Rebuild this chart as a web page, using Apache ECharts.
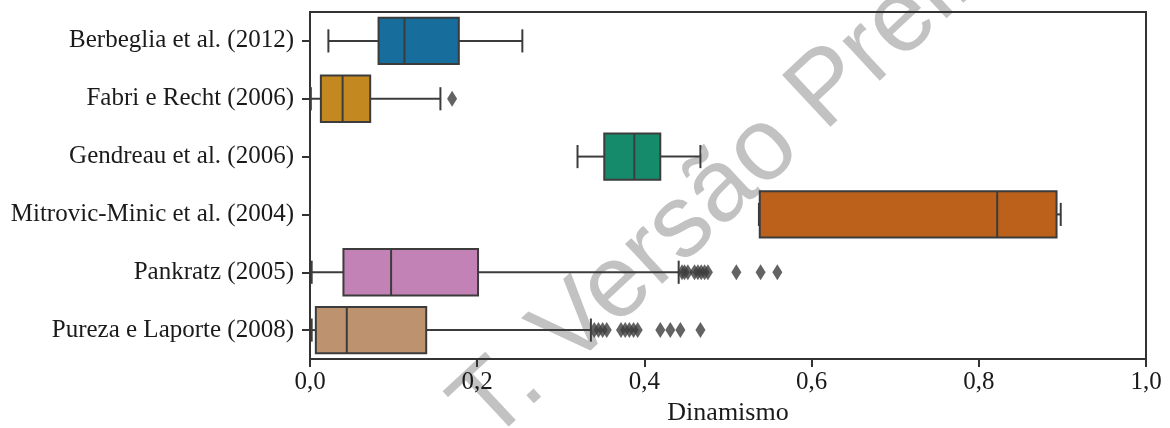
<!DOCTYPE html>
<html>
<head>
<meta charset="utf-8">
<script src="https://cdn.jsdelivr.net/npm/echarts@6/dist/echarts.min.js"></script>
<style>
  html, body { margin: 0; padding: 0; background: #fff; }
  #chart { width: 1170px; height: 428px; }
</style>
</head>
<body>
<div id="chart"></div>
<script>
// categorias (de cima para baixo)
var categories = [
  'Berbeglia et al. (2012)',
  'Fabri e Recht (2006)',
  'Gendreau et al. (2006)',
  'Mitrovic-Minic et al. (2004)',
  'Pankratz (2005)',
  'Pureza e Laporte (2008)'
];

// [min, q1, mediana, q3, max]
var berbeglia = [0.022, 0.082, 0.113, 0.178, 0.254];
var fabri = [0.001, 0.013, 0.039, 0.072, 0.156];
var gendreau = [0.320, 0.352, 0.388, 0.419, 0.467];
var mitrovic = [0.537, 0.538, 0.822, 0.893, 0.898];
var pankratz = [0.002, 0.040, 0.097, 0.201, 0.441];
var pureza = [0.002, 0.007, 0.044, 0.139, 0.336];

// outliers
var fabriOut = [0.170];
var pankratzOut = [0.445, 0.448, 0.452, 0.460, 0.464, 0.468, 0.472, 0.476, 0.510, 0.539, 0.559];
var purezaOut = [0.340, 0.345, 0.350, 0.355, 0.372, 0.377, 0.382, 0.387, 0.392, 0.419, 0.431, 0.443, 0.467];

var xTickLabels = ['0,0', '0,2', '0,4', '0,6', '0,8', '1,0'];

var boxColors = ['#176d9c', '#c38820', '#168b6b', '#bb611b', '#c282b5', '#bd926e'];
var edge = '#3c3c3c';
var serif = '"Liberation Serif", "Times New Roman", serif';

var stats = [berbeglia, fabri, gendreau, mitrovic, pankratz, pureza];
var boxData = [];
stats.forEach(function (s, i) {
  boxData.push([i].concat(s));
});

var outData = [];
[[], fabriOut, [], [], pankratzOut, purezaOut].forEach(function (arr, i) {
  arr.forEach(function (v) {
    outData.push([v, i]);
  });
});

function renderBox(params, api) {
  var cat = api.value(0);
  var lo = api.coord([api.value(1), cat]);
  var q1 = api.coord([api.value(2), cat]);
  var md = api.coord([api.value(3), cat]);
  var q3 = api.coord([api.value(4), cat]);
  var hi = api.coord([api.value(5), cat]);
  var band = api.size([0, 1])[1];
  var hb = band * 0.8 / 2;
  var hc = hb / 2;
  var cy = lo[1];
  var ls = { stroke: edge, lineWidth: 2 };
  return {
    type: 'group',
    children: [
      { type: 'line', shape: { x1: lo[0], y1: cy, x2: q1[0], y2: cy }, style: ls },
      { type: 'line', shape: { x1: q3[0], y1: cy, x2: hi[0], y2: cy }, style: ls },
      { type: 'line', shape: { x1: lo[0], y1: cy - hc, x2: lo[0], y2: cy + hc }, style: ls },
      { type: 'line', shape: { x1: hi[0], y1: cy - hc, x2: hi[0], y2: cy + hc }, style: ls },
      {
        type: 'rect',
        shape: { x: q1[0], y: cy - hb, width: q3[0] - q1[0], height: hb * 2 },
        style: { fill: boxColors[params.dataIndex], stroke: edge, lineWidth: 2 }
      },
      { type: 'line', shape: { x1: md[0], y1: cy - hb, x2: md[0], y2: cy + hb }, style: ls }
    ]
  };
}

var myChart = echarts.init(document.getElementById('chart'));

var options = {
  backgroundColor: '#fff',
  animation: false,
  grid: {
    left: 310,
    right: 24,
    top: 12,
    bottom: 69,
    show: true,
    borderColor: '#333',
    borderWidth: 2,
    containLabel: false,
    outerBoundsMode: 'none'
  },
  graphic: [{
    type: 'text',
    x: 470,
    y: 424,
    rotation: 43 * Math.PI / 180,
    z: -10,
    silent: true,
    style: {
      text: 'T. Versão Preliminar',
      font: '103px "Liberation Sans", Arial, sans-serif',
      fill: '#c2c2c2',
      align: 'left',
      verticalAlign: 'middle'
    }
  }],
  xAxis: {
    type: 'value',
    min: 0,
    max: 1,
    interval: 0.2,
    splitLine: { show: false },
    axisLine: { show: true, lineStyle: { color: '#333', width: 2 } },
    axisTick: { show: true, length: 8, lineStyle: { color: '#333', width: 2 } },
    axisLabel: {
      color: '#1a1a1a',
      fontFamily: serif,
      fontSize: 25,
      margin: 11,
      formatter: function (v) {
        return xTickLabels[Math.round(v / 0.2)];
      }
    },
    name: 'Dinamismo',
    nameLocation: 'middle',
    nameGap: 37,
    nameTextStyle: {
      color: '#1a1a1a',
      fontFamily: serif,
      fontSize: 26,
      verticalAlign: 'top'
    }
  },
  yAxis: {
    type: 'category',
    data: categories,
    inverse: true,
    splitLine: { show: false },
    axisLine: { show: true, lineStyle: { color: '#333', width: 2 } },
    axisTick: { show: true, length: 8, alignWithLabel: true, lineStyle: { color: '#333', width: 2 } },
    axisLabel: {
      color: '#1a1a1a',
      fontFamily: serif,
      fontSize: 25,
      margin: 16
    }
  },
  series: [
    {
      type: 'custom',
      renderItem: renderBox,
      encode: { x: [1, 2, 3, 4, 5], y: 0 },
      data: boxData,
      z: 3
    },
    {
      type: 'scatter',
      symbol: 'diamond',
      symbolSize: [10, 16],
      itemStyle: { color: edge },
      data: outData,
      z: 4
    }
  ]
};

myChart.setOption(options);
</script>
</body>
</html>
